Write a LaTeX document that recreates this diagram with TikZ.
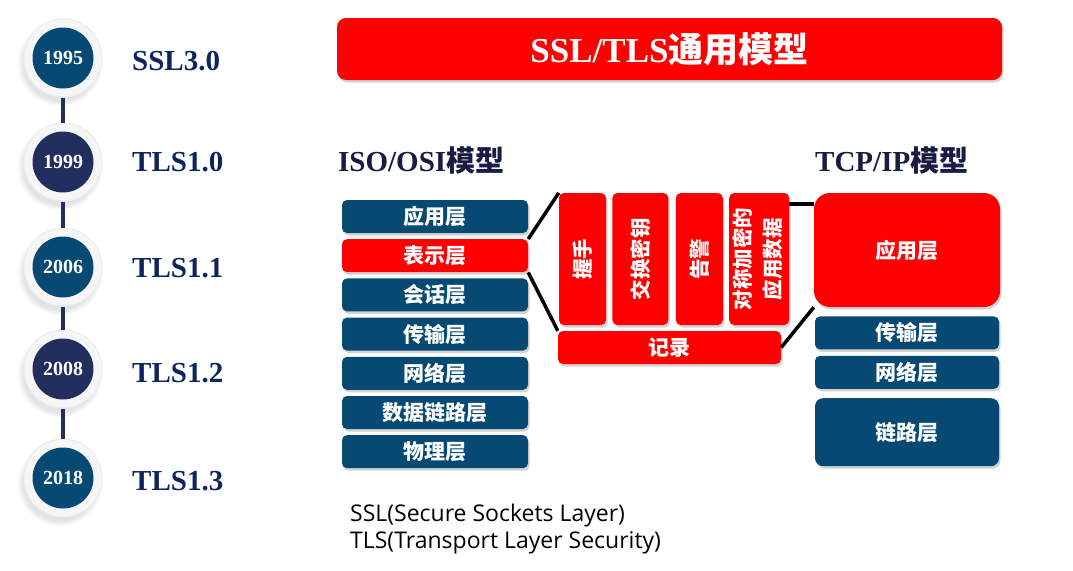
\documentclass[tikz,border=0pt]{standalone}
\usepackage{fontspec}
\setmainfont{Liberation Serif}
\newfontfamily\cjk{Noto Sans CJK SC}
\newfontfamily\footfont{Open Sans}
\usetikzlibrary{positioning,shadows}
\definecolor{osiblue}{RGB}{6,74,116}
\definecolor{navyblue}{RGB}{34,46,94}
\definecolor{vertext}{RGB}{14,36,96}
\definecolor{headtext}{RGB}{22,28,66}
\definecolor{tlsred}{RGB}{255,0,0}
\tikzset{
 layerbox/.style={rectangle,rounded corners=5pt,minimum width=186pt,minimum height=33pt,inner sep=0pt,text=white,
  font=\cjk\bfseries\fontsize{21}{21}\selectfont,drop shadow={shadow xshift=1.5pt,shadow yshift=-2.5pt,opacity=.35}},
 osibox/.style={layerbox,fill=osiblue},
 redbox/.style={layerbox,fill=tlsred},
 subproto/.style={redbox,minimum width=47pt,minimum height=132pt,font=\cjk\bfseries\fontsize{20.5}{30}\selectfont},
 heading/.style={inner sep=0pt,text=headtext,font=\bfseries\fontsize{29}{29}\selectfont},
 yearring/.style={circle,minimum size=78pt,fill=gray!7,draw=gray!15,line width=1pt,
  circular drop shadow={shadow xshift=-3pt,shadow yshift=-5pt,opacity=.22}},
 yeardot/.style={circle,minimum size=61pt,inner sep=0pt,text=white,font=\bfseries\fontsize{20}{20}\selectfont},
 version/.style={inner sep=0pt,text=vertext,font=\bfseries\fontsize{29}{29}\selectfont},
 timeline/.style={line width=4.5pt,navyblue},
 link/.style={line width=3.5pt,black}
}
\begin{document}
\begin{tikzpicture}[x=1pt,y=-1pt,node distance=5.8pt]
\useasboundingbox (0,0) rectangle (1073,570);
% timeline of versions
\foreach \yr/\cy/\col/\ver/\vy in {1995/58/osiblue/SSL3.0/61,1999/162/navyblue/TLS1.0/162,2006/267/osiblue/TLS1.1/268,2008/369/navyblue/TLS1.2/373,2018/478/osiblue/TLS1.3/481}{
 \node[yearring] (r\yr) at (63,\cy) {};
 \node[yeardot,fill=\col] (y\yr) at (r\yr) {\yr};
 \node[version,anchor=west] (v\yr) at (132,\vy) {\ver};
}
\foreach \a/\b in {1995/1999,1999/2006,2006/2008,2008/2018} \draw[timeline] (r\a.south) -- (r\b.north);
% title and headings
\node[redbox,minimum width=665pt,minimum height=62pt,rounded corners=9pt,font=\bfseries\fontsize{35}{35}\selectfont] (title) at (669.5,49) {SSL/TLS{\cjk 通用模型}};
\node[heading,anchor=west] (osihead) at (338,160) {ISO/OSI{\cjk 模型}};
\node[heading,anchor=west] (tcphead) at (815,160) {TCP/IP{\cjk 模型}};
% OSI stack
\node[osibox] (app) at (435,216.5) {应用层}; \node[redbox] (pres) [below=of app] {表示层};
\node[osibox] (sess) [below=of pres] {会话层}; \node[osibox] (trans) [below=of sess] {传输层};
\node[osibox] (net) [below=of trans] {网络层}; \node[osibox] (link) [below=of net] {数据链路层};
\node[osibox] (phys) [below=of link] {物理层};
% SSL/TLS protocols
\node[subproto] (hs) at (582.5,259) {\rotatebox{90}{握手}};
\node[subproto,minimum width=56pt] (kx) [right=6pt of hs] {\rotatebox{90}{交换密钥}};
\node[subproto] (alert) [right=7pt of kx] {\rotatebox{90}{告警}};
\node[subproto,minimum width=54pt] (appdata) [right=6pt of alert] {\rotatebox{90}{\begin{tabular}{@{}c@{}}对称加密的\\应用数据\end{tabular}}};
\node[redbox,minimum width=223pt] (rec) at (669.5,347.5) {记录};
% TCP/IP stack
\node[redbox,minimum height=114pt,rounded corners=16pt] (tapp) at (907,250) {应用层};
\node[osibox,minimum width=184pt] (ttrans) [below=9pt of tapp] {传输层};
\node[osibox,minimum width=184pt] (tnet) [below=6pt of ttrans] {网络层};
\node[osibox,minimum width=184pt,minimum height=68pt,rounded corners=8pt] (tlink) [below=9pt of tnet] {链路层};
\draw[link] (pres.north east) -- (hs.north west);
\draw[link] (pres.south east) -- (rec.north west);
\draw[link] ([yshift=-11pt]appdata.north east) -- ([yshift=-11pt]tapp.north west);
\draw[link] (rec.east) -- (tapp.south west);
\node[anchor=west,align=left,inner sep=0pt,font=\footfont\fontsize{23}{27}\selectfont] (abbr) at (350,529.5) {SSL(Secure Sockets Layer)\\TLS(Transport Layer Security)};
\end{tikzpicture}
\end{document}
